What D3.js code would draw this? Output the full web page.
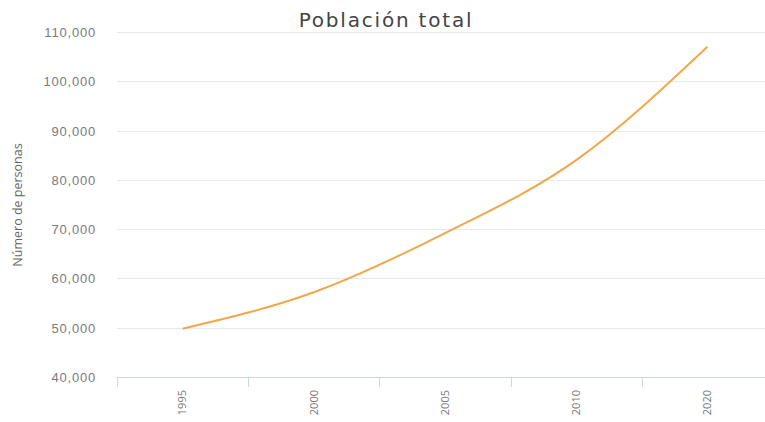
<!DOCTYPE html>
<html>
<head>
<meta charset="utf-8">
<script src="https://cdn.jsdelivr.net/npm/d3@7"></script>
<style>
    body { margin: 0; background: #fff; }
    svg { display: block; font-family: 'DejaVu Sans', Verdana, sans-serif; }
    .y.axis text { fill: #7a7a7a; font-size: 13px; letter-spacing: 0.8px; }
    .x.axis text { fill: #777; font-size: 11px; font-family: 'Open Sans', sans-serif; }
</style>
</head>
<body>
<div id="chart"></div>
<script>
// Data
var years = ['1995', '2000', '2005', '2010', '2020'];
var population = [49800, 57200, 69200, 84000, 107000];
var yTicks = [40000, 50000, 60000, 70000, 80000, 90000, 100000, 110000];

// Plot area
var width = 765,
    height = 422;
var plotLeft = 117,
    plotRight = 773,
    plotTop = 32,
    plotBottom = 377;

var x = d3.scaleBand().domain(years).range([plotLeft, plotRight]).padding(0);
var y = d3.scaleLinear().domain([40000, 110000]).range([plotBottom, plotTop]);

var svg = d3.select('#chart').append('svg').attr('width', width).attr('height', height);

// Gridlines
svg.append('g')
    .selectAll('line')
    .data(yTicks.slice(1))
    .enter()
    .append('line')
    .attr('x1', plotLeft)
    .attr('x2', width)
    .attr('y1', (d) => Math.round(y(d)) + 0.5)
    .attr('y2', (d) => Math.round(y(d)) + 0.5)
    .attr('stroke', '#e6eaee')
    .attr('stroke-width', 1);

// Y Axis (labels only)
var yAxis = d3.axisLeft(y).tickValues(yTicks).tickSize(0).tickPadding(0)
    .tickFormat(d3.format(','));
svg.append('g')
    .attr('class', 'y axis')
    .attr('transform', 'translate(96,0)')
    .call(yAxis)
    .call((g) => g.select('.domain').remove())
    .selectAll('text')
    .attr('dy', '0.35em');

// X Axis baseline
svg.append('line')
    .attr('x1', plotLeft)
    .attr('x2', width)
    .attr('y1', plotBottom + 0.5)
    .attr('y2', plotBottom + 0.5)
    .attr('stroke', '#ccd6eb');

// X tick marks at band boundaries
svg.append('g')
    .selectAll('line')
    .data(years)
    .enter()
    .append('line')
    .attr('x1', (d) => Math.round(x(d)) + 0.5)
    .attr('x2', (d) => Math.round(x(d)) + 0.5)
    .attr('y1', plotBottom)
    .attr('y2', plotBottom + 10)
    .attr('stroke', '#ccd6eb');

// X labels, rotated
var xAxis = d3.axisBottom(x).tickSize(0).tickPadding(0);
svg.append('g')
    .attr('class', 'x axis')
    .attr('transform', 'translate(0,' + plotBottom + ')')
    .call(xAxis)
    .call((g) => g.select('.domain').remove())
    .selectAll('text')
    .attr('text-anchor', 'end')
    .attr('transform', 'rotate(-90)')
    .attr('x', -13)
    .attr('y', 0)
    .attr('dy', '0.35em');

// Line
var line = d3
    .line()
    .x((d, i) => x(years[i]) + x.bandwidth() / 2)
    .y((d) => y(d))
    .curve(d3.curveMonotoneX);

svg.append('path')
    .datum(population)
    .attr('fill', 'none')
    .attr('stroke', '#f2a74a')
    .attr('stroke-width', 2)
    .attr('d', line);

// Title
svg.append('text')
    .attr('x', 386)
    .attr('y', 27)
    .attr('text-anchor', 'middle')
    .attr('fill', '#444')
    .style('font-size', '20px')
    .style('letter-spacing', '1.8px')
    .text('Población total');

// Y Axis Label
svg.append('text')
    .attr('transform', 'translate(22,' + 205 + ') rotate(-90)')
    .attr('text-anchor', 'middle')
    .attr('fill', '#666')
    .style('font-family', "'Liberation Sans Narrow', 'Open Sans', sans-serif")
    .style('font-size', '12.5px')
    .text('Número de personas');
</script>
</body>
</html>
